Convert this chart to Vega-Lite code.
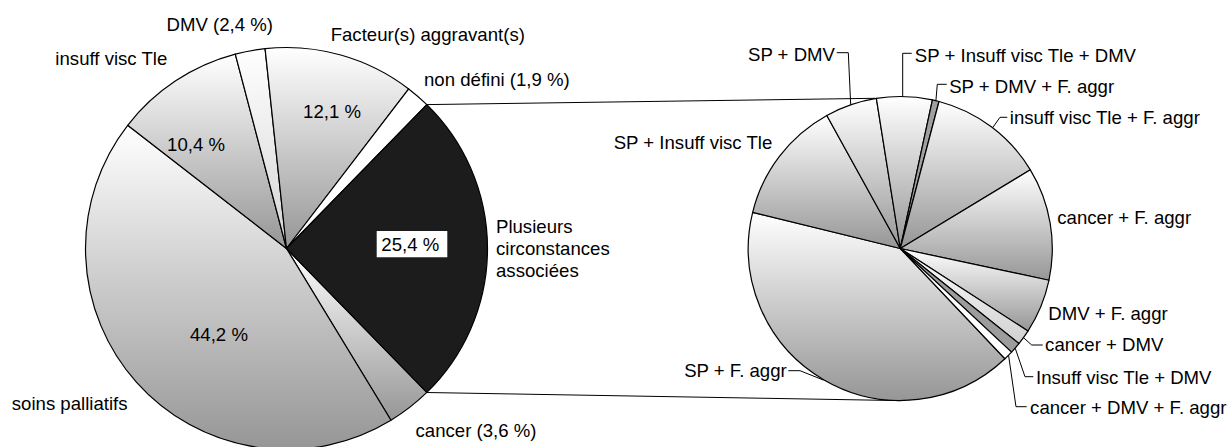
{
  "$schema": "https://vega.github.io/schema/vega-lite/v6.json",
  "width": 1231,
  "height": 397,
  "autosize": {"type": "none"},
  "padding": {"left": 0, "right": 0, "top": 50, "bottom": 0},
  "background": "white",
  "config": {
    "view": {"stroke": null},
    "text": {"font": "Liberation Sans", "fontSize": 18.6, "color": "#000"}
  },
  "data": {
    "values": [
      {"pie": "main", "ord": 1, "name": "cancer", "value": 3.6, "label": "cancer (3,6 %)", "pct": ""},
      {"pie": "main", "ord": 2, "name": "soins palliatifs", "value": 44.2, "label": "soins palliatifs", "pct": "44,2 %"},
      {"pie": "main", "ord": 3, "name": "insuff visc Tle", "value": 10.4, "label": "insuff visc Tle", "pct": "10,4  %"},
      {"pie": "main", "ord": 4, "name": "DMV", "value": 2.4, "label": "DMV (2,4 %)", "pct": ""},
      {"pie": "main", "ord": 5, "name": "Facteur(s) aggravant(s)", "value": 12.1, "label": "Facteur(s) aggravant(s)", "pct": "12,1 %"},
      {"pie": "main", "ord": 6, "name": "non défini", "value": 1.9, "label": "non défini (1,9 %)", "pct": ""},
      {"pie": "main", "ord": 7, "name": "Plusieurs circonstances associées", "value": 25.4, "label": "Plusieurs\ncirconstances\nassociées", "pct": "25,4 %"},
      {"pie": "detail", "ord": 1, "name": "SP + F. aggr", "value": 10.39, "label": "SP + F. aggr"},
      {"pie": "detail", "ord": 2, "name": "SP + Insuff visc Tle", "value": 3.34, "label": "SP + Insuff visc Tle"},
      {"pie": "detail", "ord": 3, "name": "SP + DMV", "value": 1.40, "label": "SP + DMV"},
      {"pie": "detail", "ord": 4, "name": "SP + Insuff visc Tle + DMV", "value": 1.50, "label": "SP + Insuff visc Tle + DMV"},
      {"pie": "detail", "ord": 5, "name": "SP + DMV + F. aggr", "value": 0.18, "label": "SP + DMV + F. aggr"},
      {"pie": "detail", "ord": 6, "name": "insuff visc Tle + F. aggr", "value": 3.11, "label": "insuff visc Tle + F. aggr"},
      {"pie": "detail", "ord": 7, "name": "cancer + F. aggr", "value": 3.05, "label": "cancer + F. aggr"},
      {"pie": "detail", "ord": 8, "name": "DMV + F. aggr", "value": 1.47, "label": "DMV + F. aggr"},
      {"pie": "detail", "ord": 9, "name": "cancer + DMV", "value": 0.41, "label": "cancer + DMV"},
      {"pie": "detail", "ord": 10, "name": "Insuff visc Tle + DMV", "value": 0.30, "label": "Insuff visc Tle + DMV"},
      {"pie": "detail", "ord": 11, "name": "cancer + DMV + F. aggr", "value": 0.25, "label": "cancer + DMV + F. aggr"}
    ]
  },
  "encoding": {
    "x": {"field": "pie", "type": "nominal", "scale": {"type": "point", "domain": ["main", "detail"], "range": [286.5, 900.3], "padding": 0}, "axis": null}
  },
  "resolve": {"scale": {"theta": "independent"}},
  "layer": [
    {
      "transform": [{"filter": "datum.pie === 'main'"}],
      "encoding": {
        "theta": {"field": "value", "type": "quantitative", "stack": true, "scale": {"range": [2.3688, 8.652], "nice": false}},
        "order": {"field": "ord", "type": "quantitative"}
      },
      "layer": [
        {
          "mark": {"type": "arc", "outerRadius": 201, "stroke": "#000", "strokeWidth": 1.2, "strokeJoin": "round"},
          "encoding": {
            "color": {
              "condition": [
                {"test": "datum.ord === 7", "value": "#1c1c1c"},
                {"test": "datum.ord === 6", "value": "#ffffff"},
                {"test": "datum.ord === 4", "value": {"gradient": "linear", "x1": 0, "y1": 0, "x2": 0, "y2": 1, "stops": [{"offset": 0, "color": "#ffffff"}, {"offset": 1, "color": "#d4d4d4"}]}}
              ],
              "value": {"gradient": "linear", "x1": 0, "y1": 0, "x2": 0, "y2": 1, "stops": [{"offset": 0, "color": "#ffffff"}, {"offset": 1, "color": "#969696"}]}
            }
          }
        },
        {"mark": {"type": "text", "radius": 201, "dx": 66.3, "dy": 29.8, "align": "center", "baseline": "alphabetic"},
         "encoding": {"text": {"condition": {"test": "datum.ord === 1", "field": "label"}, "value": ""}}},
        {"mark": {"type": "text", "radius": 201, "dx": -66.9, "dy": 28.0, "align": "center", "baseline": "alphabetic"},
         "encoding": {"text": {"condition": {"test": "datum.ord === 2", "field": "label"}, "value": ""}}},
        {"mark": {"type": "text", "radius": 201, "dx": -64.3, "dy": -15.8, "align": "center", "baseline": "alphabetic"},
         "encoding": {"text": {"condition": {"test": "datum.ord === 3", "field": "label"}, "value": ""}}},
        {"mark": {"type": "text", "radius": 201, "dx": -30.4, "dy": -20.1, "align": "center", "baseline": "alphabetic"},
         "encoding": {"text": {"condition": {"test": "datum.ord === 4", "field": "label"}, "value": ""}}},
        {"mark": {"type": "text", "radius": 201, "dx": 87.0, "dy": -14.3, "align": "center", "baseline": "alphabetic"},
         "encoding": {"text": {"condition": {"test": "datum.ord === 5", "field": "label"}, "value": ""}}},
        {"mark": {"type": "text", "radius": 201, "dx": 6.0, "dy": -10.5, "align": "left", "baseline": "alphabetic"},
         "encoding": {"text": {"condition": {"test": "datum.ord === 6", "field": "label"}, "value": ""}}},
        {"mark": {"type": "text", "radius": 201, "dx": 8.5, "dy": -15.8, "align": "left", "baseline": "alphabetic", "lineBreak": "\n", "lineHeight": 22},
         "encoding": {"text": {"condition": {"test": "datum.ord === 7", "field": "label"}, "value": ""}}},
        {"mark": {"type": "text", "radius": 140, "dx": 36.9, "dy": -0.7, "align": "center", "baseline": "alphabetic"},
         "encoding": {"text": {"condition": {"test": "datum.ord === 2", "field": "pct"}, "value": ""}}},
        {"mark": {"type": "text", "radius": 140, "dx": -13.3, "dy": 19.3, "align": "center", "baseline": "alphabetic"},
         "encoding": {"text": {"condition": {"test": "datum.ord === 3", "field": "pct"}, "value": ""}}},
        {"mark": {"type": "text", "radius": 140, "dx": 7.7, "dy": 4.3, "align": "center", "baseline": "alphabetic"},
         "encoding": {"text": {"condition": {"test": "datum.ord === 5", "field": "pct"}, "value": ""}}}
      ]
    },
    {
      "transform": [{"filter": "datum.pie === 'detail'"}],
      "encoding": {
        "theta": {"field": "value", "type": "quantitative", "stack": true, "scale": {"range": [2.3824, 8.6656], "nice": false}},
        "order": {"field": "ord", "type": "quantitative"}
      },
      "layer": [
        {
          "mark": {"type": "arc", "outerRadius": 152, "stroke": "#000", "strokeWidth": 1.2, "strokeJoin": "round"},
          "encoding": {
            "color": {
              "condition": [
                {"test": "datum.ord === 5", "value": "#a0a0a0"},
                {"test": "datum.ord === 10", "value": "#9c9c9c"},
                {"test": "datum.ord === 11", "value": "#ffffff"},
                {"test": "datum.ord === 9", "value": {"gradient": "linear", "x1": 0, "y1": 0, "x2": 0, "y2": 1, "stops": [{"offset": 0, "color": "#ffffff"}, {"offset": 1, "color": "#d0d0d0"}]}}
              ],
              "value": {"gradient": "linear", "x1": 0, "y1": 0, "x2": 0, "y2": 1, "stops": [{"offset": 0, "color": "#ffffff"}, {"offset": 1, "color": "#969696"}]}
            }
          }
        },
        {"mark": {"type": "text", "radius": 152, "dx": -37.3, "dy": -2.7, "align": "right", "baseline": "alphabetic"},
         "encoding": {"text": {"condition": {"test": "datum.ord === 1", "field": "label"}, "value": ""}}},
        {"mark": {"type": "text", "radius": 152, "dx": -86.6, "dy": -6.8, "align": "center", "baseline": "alphabetic"},
         "encoding": {"text": {"condition": {"test": "datum.ord === 2", "field": "label"}, "value": ""}}},
        {"mark": {"type": "text", "radius": 152, "dx": -15.9, "dy": -44.0, "align": "right", "baseline": "alphabetic"},
         "encoding": {"text": {"condition": {"test": "datum.ord === 3", "field": "label"}, "value": ""}}},
        {"mark": {"type": "text", "radius": 152, "dx": 10.4, "dy": -34.9, "align": "left", "baseline": "alphabetic"},
         "encoding": {"text": {"condition": {"test": "datum.ord === 4", "field": "label"}, "value": ""}}},
        {"mark": {"type": "text", "radius": 152, "dx": 13.4, "dy": -7.4, "align": "left", "baseline": "alphabetic"},
         "encoding": {"text": {"condition": {"test": "datum.ord === 5", "field": "label"}, "value": ""}}},
        {"mark": {"type": "text", "radius": 152, "dx": 18.5, "dy": -2.9, "align": "left", "baseline": "alphabetic"},
         "encoding": {"text": {"condition": {"test": "datum.ord === 6", "field": "label"}, "value": ""}}},
        {"mark": {"type": "text", "radius": 152, "dx": 7.1, "dy": 0.9, "align": "left", "baseline": "alphabetic"},
         "encoding": {"text": {"condition": {"test": "datum.ord === 7", "field": "label"}, "value": ""}}},
        {"mark": {"type": "text", "radius": 152, "dx": 7.6, "dy": 13.3, "align": "left", "baseline": "alphabetic"},
         "encoding": {"text": {"condition": {"test": "datum.ord === 8", "field": "label"}, "value": ""}}},
        {"mark": {"type": "text", "radius": 152, "dx": 21.5, "dy": 13.5, "align": "left", "baseline": "alphabetic"},
         "encoding": {"text": {"condition": {"test": "datum.ord === 9", "field": "label"}, "value": ""}}},
        {"mark": {"type": "text", "radius": 152, "dx": 20.7, "dy": 36.1, "align": "left", "baseline": "alphabetic"},
         "encoding": {"text": {"condition": {"test": "datum.ord === 10", "field": "label"}, "value": ""}}},
        {"mark": {"type": "text", "radius": 152, "dx": 21.8, "dy": 58.5, "align": "left", "baseline": "alphabetic"},
         "encoding": {"text": {"condition": {"test": "datum.ord === 11", "field": "label"}, "value": ""}}}
      ]
    },
    {
      "transform": [{"filter": "datum.pie === 'main' && datum.ord === 7"}],
      "mark": {"type": "point", "shape": "M-1,-0.3725H1V0.3725H-1Z", "size": 4984, "filled": true, "color": "#ffffff", "opacity": 1, "strokeWidth": 0, "xOffset": 125.5, "yOffset": -4.3},
      "encoding": {"y": {"datum": "c", "type": "nominal", "scale": {"type": "point", "domain": ["c"]}, "axis": null}}
    },
    {
      "transform": [{"filter": "datum.pie === 'main' && datum.ord === 7"}],
      "mark": {"type": "text", "dx": 123.8, "dy": 2.2, "align": "center", "baseline": "alphabetic"},
      "encoding": {
        "y": {"datum": "c", "type": "nominal", "scale": {"type": "point", "domain": ["c"]}, "axis": null},
        "text": {"field": "pct"}
      }
    },
    {
      "transform": [{"filter": "datum.pie === 'detail' && datum.ord === 1"}],
      "mark": {"type": "point", "shape": "M-63.6,-195.8H-52L-49.6,-143.7M11.4,-195.2H2.4V-152M46.4,-164.2H37L35.6,-147.8M107,-131.2H99.7L92.5,-121M142.4,96.5H131.4L122.8,88.8M133,128.2H124.7L115,100M126.4,158.2H115.7L108.3,107M-112,122.2H-100.3L-77,131.5", "size": 4, "filled": false, "color": "#000", "opacity": 1, "strokeWidth": 1},
      "encoding": {"y": {"datum": "c", "type": "nominal", "scale": {"type": "point", "domain": ["c"]}, "axis": null}}
    },
    {
      "transform": [{"filter": "datum.pie === 'main' && datum.ord === 7"}],
      "mark": {"type": "rule", "color": "#000", "strokeWidth": 1, "xOffset": 140.3, "yOffset": -143.9, "x2Offset": -25.3, "y2Offset": -150.2},
      "encoding": {
        "x": {"datum": "main", "type": "nominal"},
        "x2": {"datum": "detail"},
        "y": {"datum": "c", "type": "nominal", "scale": {"type": "point", "domain": ["c"]}, "axis": null},
        "y2": {"datum": "c"}
      }
    },
    {
      "transform": [{"filter": "datum.pie === 'main' && datum.ord === 7"}],
      "mark": {"type": "rule", "color": "#000", "strokeWidth": 1, "xOffset": 140.3, "yOffset": 144.0, "x2Offset": 0, "y2Offset": 152.1},
      "encoding": {
        "x": {"datum": "main", "type": "nominal"},
        "x2": {"datum": "detail"},
        "y": {"datum": "c", "type": "nominal", "scale": {"type": "point", "domain": ["c"]}, "axis": null},
        "y2": {"datum": "c"}
      }
    }
  ]
}
